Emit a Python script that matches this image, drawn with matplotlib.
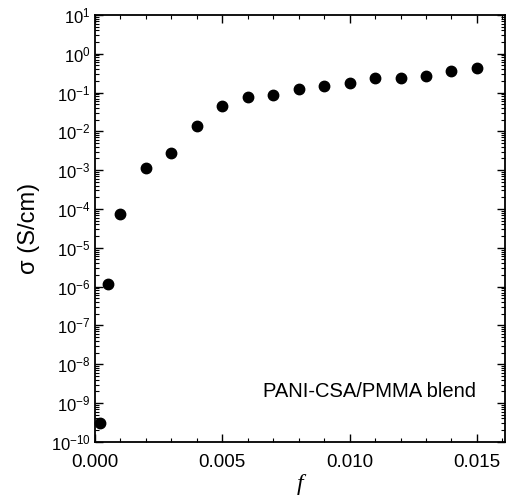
import numpy as np
import matplotlib
matplotlib.use('Agg')
import matplotlib.pyplot as plt
import matplotlib.ticker as ticker

plt.rcParams.update({'font.family': ['Liberation Sans', 'DejaVu Sans'],
                     'mathtext.fontset': 'custom',
                     'mathtext.rm': 'Liberation Sans',
                     'mathtext.it': 'Liberation Sans:italic'})

# volume fraction f and conductivity sigma (S/cm)
f_vals = [0.0002, 0.0005, 0.001, 0.002, 0.003, 0.004, 0.005, 0.006,
          0.007, 0.008, 0.009, 0.010, 0.011, 0.012, 0.013, 0.014, 0.015]
sigma = [3.0e-10, 1.2e-6, 7.5e-5, 1.15e-3, 2.8e-3, 1.4e-2, 4.5e-2, 7.5e-2,
         8.5e-2, 0.126, 0.145, 0.18, 0.24, 0.24, 0.27, 0.36, 0.42]

fig = plt.figure(figsize=(5.07, 4.97), dpi=100)
ax = fig.add_axes([0.187, 0.111, 0.809, 0.859])

ax.semilogy(f_vals, sigma, 'o', color='black', markersize=7.5, clip_on=False)

ax.set_xlim(0, 0.0161)
ax.set_ylim(1e-10, 1e1)

ax.xaxis.set_major_locator(ticker.MultipleLocator(0.005))
ax.xaxis.set_minor_locator(ticker.MultipleLocator(0.001))
ax.xaxis.set_major_formatter(ticker.FormatStrFormatter('%.3f'))
ax.yaxis.set_major_locator(ticker.LogLocator(base=10, numticks=20))
ax.yaxis.set_minor_locator(ticker.LogLocator(base=10, subs=np.arange(2, 10), numticks=20))
def yfmt(v, p):
    e = int(round(np.log10(v)))
    return r'$\mathregular{10^{%d}}$' % e
ax.yaxis.set_major_formatter(ticker.FuncFormatter(yfmt))

ax.tick_params(which='both', direction='in', top=True, right=True)
ax.tick_params(which='major', length=6, width=1)
ax.tick_params(which='minor', length=3, width=0.8)
ax.tick_params(axis='x', labelsize=13.5, pad=9)
ax.tick_params(axis='y', labelsize=12, pad=3)
for s in ax.spines.values():
    s.set_linewidth(1.3)

ax.set_ylabel('σ (S/cm)', fontsize=17, labelpad=8)
ax.set_xlabel('f', fontsize=17, fontstyle='italic', family='Liberation Serif', labelpad=2)

ax.text(0.01495, 1.1e-9, 'PANI-CSA/PMMA blend', fontsize=14.5, ha='right', va='bottom')

plt.savefig('out.png', dpi=100)
